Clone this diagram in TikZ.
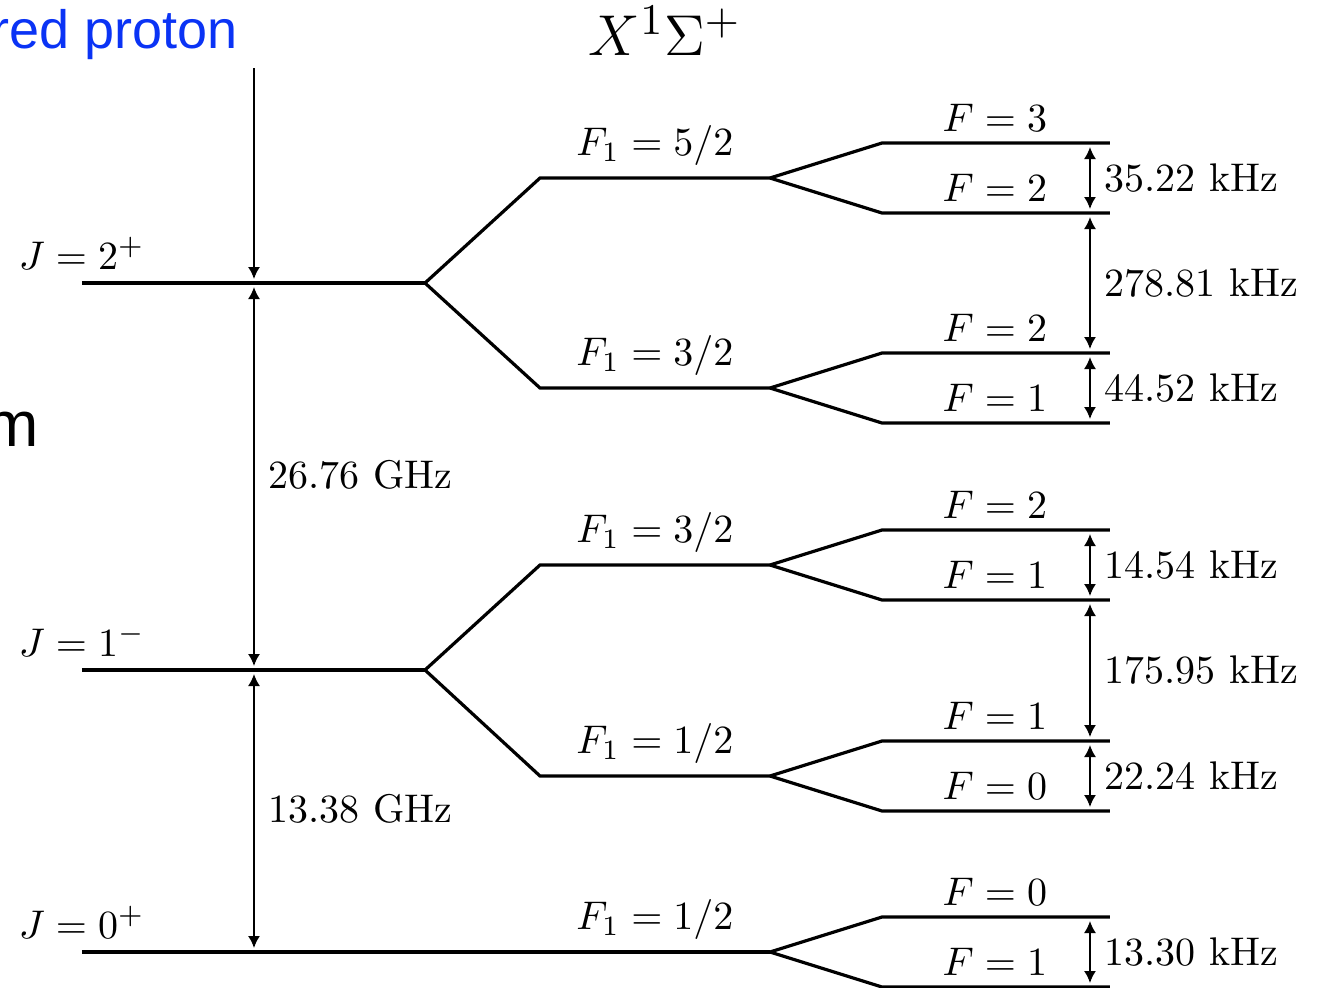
\documentclass[tikz,border=0pt]{standalone}
\usepackage{amsmath}
\usepackage{fontspec}
\newfontfamily\notefont{Liberation Sans}
\usetikzlibrary{arrows.meta,positioning,calc}
\definecolor{note}{HTML}{0A33F5}
\tikzset{
  level/.style={line width=0.8pt, draw=black},
  gap/.style={{Latex[length=3pt,width=3pt]}-{Latex[length=3pt,width=3pt]},
              line width=0.4pt, shorten <=1pt, shorten >=1pt},
  drop/.style={-{Latex[length=3pt,width=3pt]}, line width=0.4pt, shorten >=1pt},
  lab/.style={inner sep=0pt, font=\normalsize},
  notetext/.style={inner sep=0pt, text=note}
}

\begin{document}
\begin{tikzpicture}[x=0.25pt,y=-0.25pt]
  \useasboundingbox (0,0) rectangle (1322,988);

  % cut-off slide text
  \node[notetext,font=\notefont\fontsize{13.5}{16}\selectfont,anchor=base east] (note1) at (238,48) {red proton};
  \node[notetext,text=black,font=\notefont\fontsize{16}{19}\selectfont,anchor=base east] (note2) at (40,446) {m};

  % state label
  \node[lab,font=\fontsize{15.5}{19}\selectfont,anchor=base] (title) at (665,55) {$X^1\Sigma^+$};

  % rotational levels
  \foreach \nm/\y/\lab in {J2/283/2^+, J1/670/1^-, J0/952/0^+} {
    \coordinate (\nm-w) at (82,\y);
    \coordinate (\nm-e) at (425,\y);
    \coordinate (\nm-t) at (254,\y);
    \draw[level] (\nm-w) -- (\nm-e);
    \node[lab,anchor=base west] (\nm-lab) at (18,\y-14) {$J=\lab$};
  }

  % F1 levels
  \foreach \nm/\from/\y/\lab in {a/J2/178/{5/2}, b/J2/388/{3/2}, c/J1/565/{3/2}, d/J1/776/{1/2}} {
    \coordinate (\nm-w) at (540,\y);
    \coordinate (\nm) at (770,\y);
    \draw[level] (\from-e) -- (\nm-w) -- (\nm);
    \node[lab,anchor=base] (\nm-lab) at (655,\y-23) {$F_1=\lab$};
  }
  \coordinate (e) at (770,952);
  \draw[level] (J0-e) -- (e);
  \node[lab,anchor=base] (e-lab) at (655,929) {$F_1=1/2$};

  % hyperfine F levels
  \foreach \nm/\y/\up/\lo in {a/178/3/2, b/388/2/1, c/565/2/1, d/776/1/0, e/952/0/1} {
    \foreach \s/\dy/\f in {u/-35/\up, l/35/\lo} {
      \coordinate (\nm\s-w) at (882,\y+\dy);
      \coordinate (\nm\s-e) at (1110,\y+\dy);
      \coordinate (\nm\s) at (1090,\y+\dy);
      \draw[level] (\nm) -- (\nm\s-w) -- (\nm\s-e);
      \node[lab,anchor=base east] (\nm\s-lab) at (1048,\y+\dy-12) {$F=\f$};
    }
  }

  % hyperfine splittings
  \foreach \p/\q/\val in {au/al/35.22, al/bu/278.81, bu/bl/44.52, cu/cl/14.54,
                          cl/du/175.95, du/dl/22.24, eu/el/13.30} {
    \draw[gap] (\p) -- node[lab,right=3.5pt] (\p-gap) {\val~kHz} (\q);
  }

  % rotational splittings
  \coordinate (top) at (254,68);
  \draw[drop] (top) -- (J2-t);
  \draw[gap] (J2-t) -- (J1-t);
  \draw[gap] (J1-t) -- (J0-t);
  \node[lab,anchor=base west] (gap21) at (268,488) {26.76~GHz};
  \node[lab,anchor=base west] (gap10) at (268,822) {13.38~GHz};
\end{tikzpicture}
\end{document}
